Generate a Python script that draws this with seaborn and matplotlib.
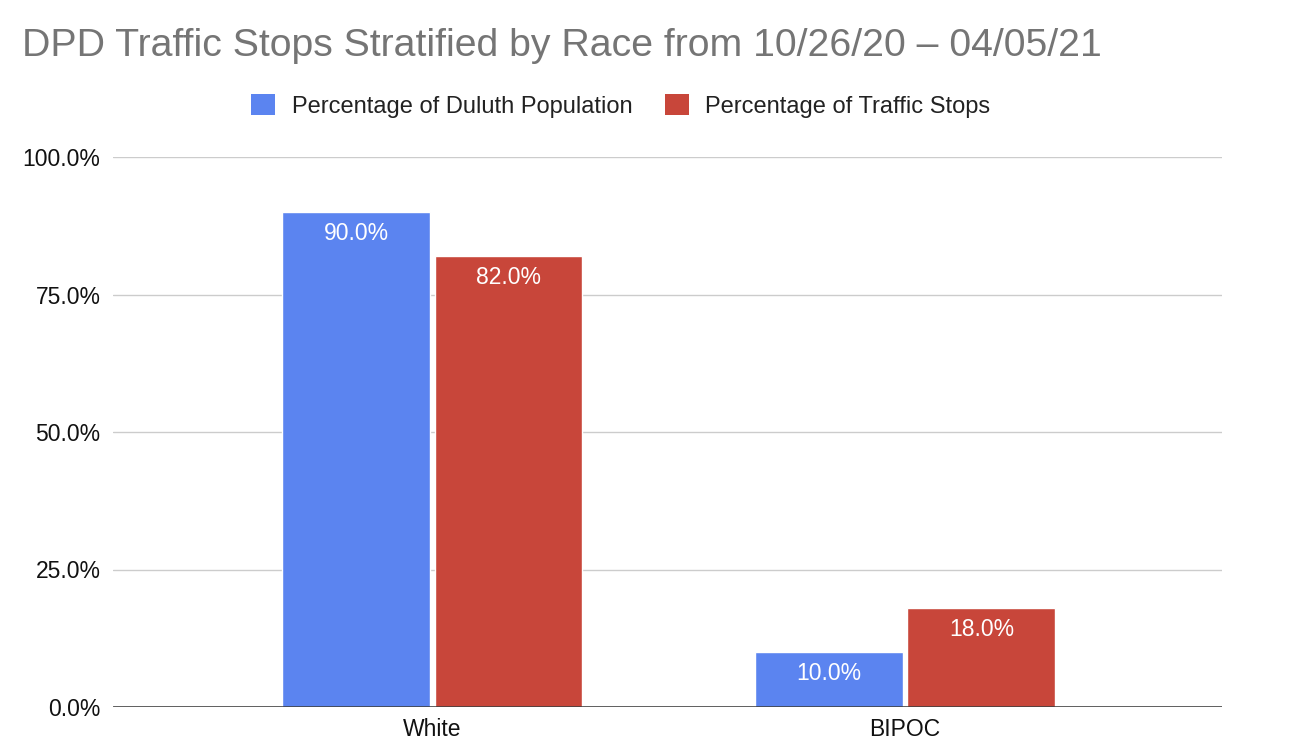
import pandas as pd
import seaborn as sns
import matplotlib.pyplot as plt
from matplotlib.patches import Patch
from matplotlib.ticker import FuncFormatter

# data
races = ['White', 'BIPOC']
series = ['Percentage of Duluth Population', 'Percentage of Traffic Stops']
population_pct = [0.90, 0.10]
stops_pct = [0.82, 0.18]
y_ticks = [0.0, 0.25, 0.50, 0.75, 1.00]

colors = ['#5b84f0', '#c8463a']

df = pd.DataFrame({
    'Race': races * 2,
    'Series': [series[0]] * len(races) + [series[1]] * len(races),
    'Value': population_pct + stops_pct,
})

sns.set_theme(style='white')
plt.rcParams['font.family'] = ['Liberation Sans', 'DejaVu Sans']

fig = plt.figure(figsize=(12.92, 7.51), dpi=100)
ax = fig.add_axes([113 / 1292, 1 - 707 / 751, (1222 - 113) / 1292, (707 - 157) / 751])

sns.barplot(data=df, x='Race', y='Value', hue='Series', order=races, hue_order=series,
            palette=colors, width=0.645, gap=0.03, saturation=1, legend=False, ax=ax)

# value labels inside bar tops
for cont in ax.containers:
    for p in cont:
        h = p.get_height()
        ax.annotate(f'{h * 100:.1f}%', (p.get_x() + p.get_width() / 2, h),
                    xytext=(0, -7), textcoords='offset points',
                    ha='center', va='top', color='white', fontsize=16.5)

ax.set_xlim(-0.675, 1.67)
ax.set_ylim(0, 1.0)
ax.set_yticks(y_ticks)
ax.yaxis.set_major_formatter(FuncFormatter(lambda v, _: f'{v * 100:.1f}%'))
ax.grid(axis='y', color='#cccccc', linewidth=1)
ax.set_axisbelow(True)
ax.axhline(0, color='#333333', linewidth=1.8, zorder=5)
for s in ax.spines.values():
    s.set_visible(False)
ax.tick_params(axis='y', length=0, pad=9, labelsize=16.5, labelcolor='#111111')
ax.tick_params(axis='x', length=0, pad=8, labelsize=16.5, labelcolor='#111111')
ax.set_xlabel('')
ax.set_ylabel('')

fig.text(22 / 1292, 1 - 46 / 751, 'DPD Traffic Stops Stratified by Race from 10/26/20 – 04/05/21',
         fontsize=28.3, color='#757575', ha='left', va='center')

handles = [Patch(facecolor=c, edgecolor='none') for c in colors]
fig.legend(handles, series, loc='center', bbox_to_anchor=(621 / 1292, 1 - 106 / 751),
           ncol=2, frameon=False, fontsize=17, handlelength=1.0, handleheight=1.0,
           handletextpad=0.7, columnspacing=1.4, labelcolor='#222222')

fig.savefig('out.png', dpi=100)
